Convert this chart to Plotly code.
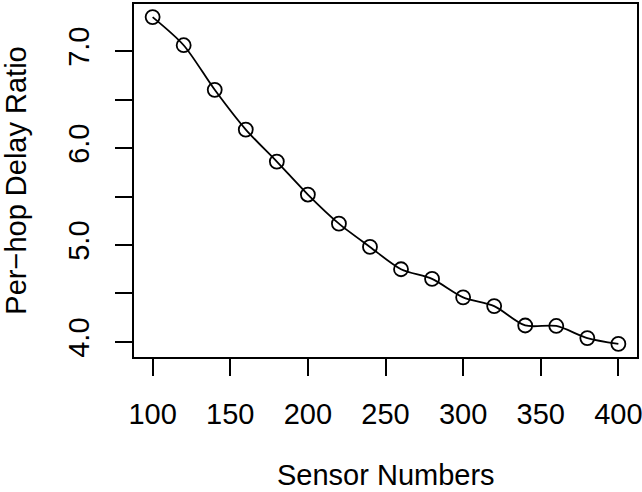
import plotly.graph_objects as go

sensor_numbers = [100, 120, 140, 160, 180, 200, 220, 240, 260, 280, 300, 320, 340, 360, 380, 400]
delay_ratio = [7.35, 7.06, 6.60, 6.19, 5.86, 5.52, 5.22, 4.98, 4.75, 4.65, 4.46, 4.37, 4.17, 4.165, 4.04, 3.98]

x_ticks = [100, 150, 200, 250, 300, 350, 400]
y_ticks = [4.0, 4.5, 5.0, 5.5, 6.0, 6.5, 7.0]
y_ticktext = ["4.0", "", "5.0", "", "6.0", "", "7.0"]
x_title = "Sensor Numbers"
y_title = "Per\u2212hop Delay Ratio"

FONT = "Liberation Sans, Arial, Helvetica, sans-serif"
FS = 29

fig = go.Figure()
fig.add_trace(go.Scatter(
    x=sensor_numbers, y=delay_ratio,
    mode="lines+markers",
    line=dict(color="black", width=1.8, shape="spline", smoothing=0.8),
    marker=dict(symbol="circle-open", size=14, color="black", line=dict(width=1.8, color="black")),
    showlegend=False,
))

axis_common = dict(
    showgrid=False, zeroline=False,
    showline=True, linecolor="black", linewidth=1.5, mirror=True,
    ticks="outside", ticklen=17, tickwidth=1.5, tickcolor="black",
    tickfont=dict(family=FONT, size=FS, color="black"),
    ticklabeloverflow="allow",
)

fig.update_layout(
    width=642, height=492,
    margin=dict(l=134, r=5, t=4, b=135, autoexpand=False),
    paper_bgcolor="white", plot_bgcolor="white",
    font=dict(family=FONT, size=FS, color="black"),
    xaxis=dict(
        range=[88, 412], tickvals=x_ticks, ticktext=[str(v) for v in x_ticks],
        ticklabelstandoff=13,
        **axis_common,
    ),
    yaxis=dict(
        range=[3.845, 7.485], tickvals=y_ticks, ticktext=y_ticktext, tickangle=-90,
        title=dict(text=y_title, font=dict(family=FONT, size=FS, color="black"), standoff=31),
        ticklabelstandoff=15,
        **axis_common,
    ),
    annotations=[dict(
        text=x_title, xref="paper", yref="paper", x=0.5, y=0,
        xanchor="center", yanchor="bottom", yshift=-135, showarrow=False,
        borderpad=0,
        font=dict(family=FONT, size=FS, color="black"),
    )],
)

fig.write_html("out.html", config={"displayModeBar": False},
               post_script="document.body.style.margin='0';")
